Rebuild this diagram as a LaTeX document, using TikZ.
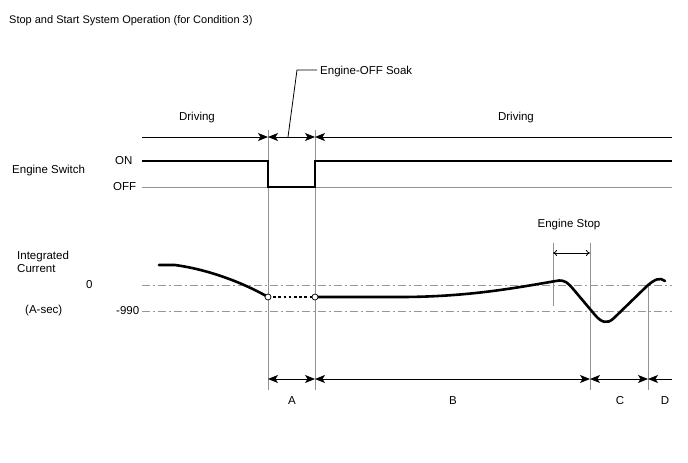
\documentclass[tikz,border=0pt]{standalone}
\usepackage{fontspec}
\setmainfont{Liberation Sans}
\usetikzlibrary{arrows.meta}
\begin{document}
\begin{tikzpicture}[x=1pt,y=-1pt,
  lbl/.style={font=\fontsize{11.5}{13.5}\selectfont, inner sep=0pt},
  thin gray/.style={draw=gray!85, line width=0.8pt},
  dashdot/.style={draw=gray!80, line width=0.8pt, dash pattern=on 8pt off 3pt on 2pt off 3pt},
  sig/.style={line width=2.6pt, line join=miter},
  dim/.style={line width=1pt, arrows={-Stealth[length=10pt,width=8pt,inset=2.5pt]}},
  dimb/.style={line width=1pt, arrows={Stealth[length=10pt,width=8pt,inset=2.5pt]-Stealth[length=10pt,width=8pt,inset=2.5pt]}},
  dimr/.style={line width=1pt, arrows={Stealth[length=10pt,width=8pt,inset=2.5pt]-}},
  pt/.style={circle, draw, fill=white, line width=0.7pt, inner sep=0pt, minimum size=6pt}
]
\useasboundingbox (0,0) rectangle (688,463);

% title
\node[lbl, font=\fontsize{11}{13}\selectfont, anchor=west] (title) at (9,21) {Stop and Start System Operation (for Condition 3)};

% left labels
\node[lbl, anchor=west] (es) at (12,171) {Engine Switch};
\node[lbl, anchor=west] (on) at (115,161) {ON};
\node[lbl, anchor=west] (off) at (113,187) {OFF};
\node[lbl, anchor=west, align=left] (ic) at (17,262) {Integrated\\Current};
\node[lbl, anchor=west] (zero) at (86,285) {0};
\node[lbl, anchor=west] (asec) at (25,311) {(A-sec)};
\node[lbl, anchor=west] (n990) at (116,311) {-990};

% vertical guide lines
\coordinate (v1t) at (268,130); \coordinate (v1b) at (268,390);
\coordinate (v2t) at (315,130); \coordinate (v2b) at (315,390);
\coordinate (v3t) at (590,243); \coordinate (v3b) at (590,390);
\coordinate (v4t) at (648,285); \coordinate (v4b) at (648,390);
\coordinate (v5t) at (553,243); \coordinate (v5b) at (553,306);
\draw[thin gray] (v1t) -- (v1b);
\draw[thin gray] (v2t) -- (v2b);
\draw[thin gray] (v3t) -- (v3b);
\draw[thin gray] (v4t) -- (v4b);
\draw[thin gray] (v5t) -- (v5b);

% top timeline
\coordinate (t0) at (142,137);
\coordinate (t1) at (268,137);
\coordinate (t2) at (315,137);
\coordinate (t3) at (672,137);
\draw[dim] (t0) -- (t1);
\draw[dimb] (t1) -- (t2);
\draw[dimr] (t2) -- (t3);
\node[lbl] (drv1) at (197,118) {Driving};
\node[lbl] (drv2) at (516,118) {Driving};

% Engine-OFF Soak leader
\node[lbl, anchor=west] (soak) at (320,72) {Engine-OFF Soak};
\coordinate (ld0) at (317,70);
\coordinate (ld1) at (297,70);
\coordinate (ld2) at (288,137);
\draw[line width=0.8pt] (ld0) -- (ld1) -- (ld2);

% OFF level
\coordinate (off0) at (142,187);
\coordinate (off1) at (672,187);
\draw[thin gray] (off0) -- (off1);
% ON signal
\coordinate (on0) at (142,161);
\draw[sig] (on0) -- (268,161) -- (268,187) -- (315,187) -- (315,161) -- (672,161);

% dash-dot levels
\coordinate (z0) at (142,285); \coordinate (z1) at (672,285);
\coordinate (m0) at (142,311); \coordinate (m1) at (672,311);
\draw[dashdot] (z0) -- (z1);
\draw[dashdot] (m0) -- (m1);

% integrated current curve
\coordinate (c0) at (159,265);
\coordinate (p1) at (268,297);
\coordinate (p2) at (315,297);
\draw[sig, line join=round, line cap=round] (c0) -- (175,265) .. controls (205,269) and (240,281) .. (p1);
\draw[line width=2.6pt, dash pattern=on 2.6pt off 2.6pt] (p1) -- (p2);
\draw[sig, line join=round, line cap=round] (p2) -- (400,297)
  .. controls (470,297) and (520,287) .. (556,281)
  .. controls (565,279) and (568,283) .. (574,290)
  -- (595,315)
  .. controls (601,322) and (607,325) .. (614,318)
  -- (647,286)
  .. controls (655,279) and (660,277) .. (665,281);
\node[pt] (pc1) at (p1) {};
\node[pt] (pc2) at (p2) {};

% Engine Stop
\node[lbl] (estop) at (569,225) {Engine Stop};
\coordinate (es1) at (553,253);
\coordinate (es2) at (590,253);
\draw[line width=0.8pt, {To[length=4pt,width=6pt]}-{To[length=4pt,width=6pt]}] (es1) -- (es2);

% bottom dimension line
\coordinate (b1) at (268,379);
\coordinate (b2) at (315,379);
\coordinate (b3) at (590,379);
\coordinate (b4) at (648,379);
\coordinate (b5) at (672,379);
\draw[dimb] (b1) -- (b2);
\draw[dimb] (b2) -- (b3);
\draw[dimb] (b3) -- (b4);
\draw[dimr] (b4) -- (b5);
\node[lbl] (A) at (292,401) {A};
\node[lbl] (B) at (453,401) {B};
\node[lbl] (C) at (620,401) {C};
\node[lbl] (D) at (665,401) {D};
\end{tikzpicture}
\end{document}
